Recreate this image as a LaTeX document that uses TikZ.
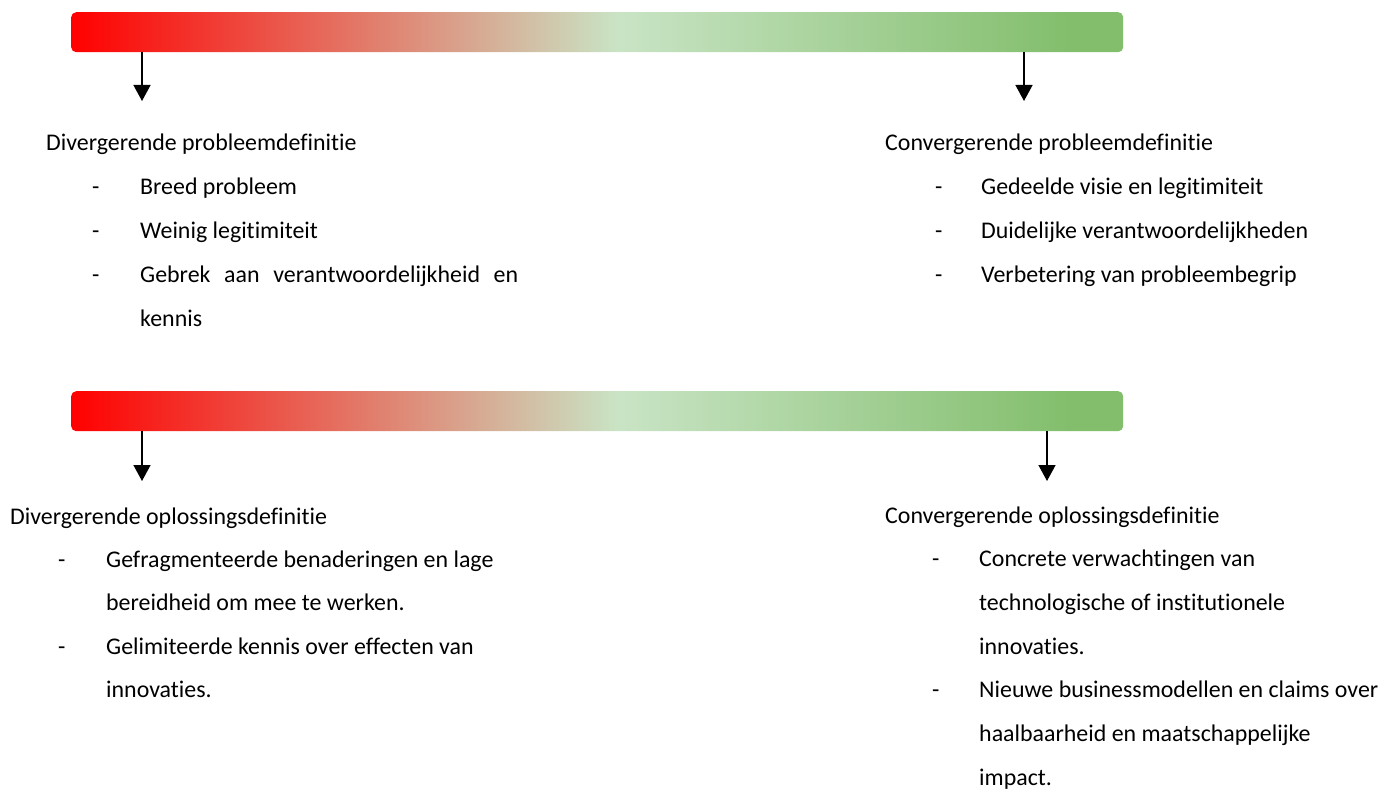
\documentclass[tikz,border=0pt]{standalone}
\usepackage{fontspec}
\setmainfont{Carlito}[Ligatures=NoCommon]
\usetikzlibrary{arrows.meta}
\definecolor{barred}{RGB}{255,0,0}
\definecolor{barlg}{RGB}{201,228,197}
\definecolor{bardg}{RGB}{130,190,108}
\pgfdeclarehorizontalshading{barshade}{100bp}{color(0bp)=(barred); color(25bp)=(barred); color(51bp)=(barlg); color(72.5bp)=(bardg); color(75bp)=(bardg); color(100bp)=(bardg)}
\tikzset{
  gradbar/.style={shading=barshade, rounded corners=5pt, minimum width=1052pt, minimum height=40pt, inner sep=0pt, anchor=north west},
  txt/.style={anchor=base west, inner sep=0pt, font=\fontsize{23.9}{28}\selectfont},
  arr/.style={line width=1.4pt, -{Triangle[width=17pt,length=16pt]}}
}
\begin{document}
\begin{tikzpicture}[x=1pt,y=-1pt]
\useasboundingbox (0,0) rectangle (1394,789);
% bars
\node[gradbar] (bar1) at (71,12) {};
\node[gradbar] (bar2) at (71,391) {};
% arrows
\coordinate (a1s) at (142,52);  \coordinate (a1e) at (142,101);
\coordinate (a2s) at (1024,52); \coordinate (a2e) at (1024,101);
\coordinate (a3s) at (142,431); \coordinate (a3e) at (142,481);
\coordinate (a4s) at (1047,431); \coordinate (a4e) at (1047,481);
\draw[arr] (a1s) -- (a1e);
\draw[arr] (a2s) -- (a2e);
\draw[arr] (a3s) -- (a3e);
\draw[arr] (a4s) -- (a4e);
% top-left
\node[txt] (t1) at (46,150) {Divergerende probleemdefinitie};
\node[txt] (d11) at (92,194) {-};
\node[txt] (l11) at (140,194) {Breed probleem};
\node[txt] (d12) at (92,238) {-};
\node[txt] (l12) at (140,238) {Weinig legitimiteit};
\node[txt] (d13) at (92,282) {-};
\node[txt] (l13) at (140,282) {\makebox[378pt][s]{Gebrek aan verantwoordelijkheid en}};
\node[txt] (l14) at (140,326) {kennis};
% top-right
\node[txt] (t2) at (885,150) {Convergerende probleemdefinitie};
\node[txt] (d21) at (935,194) {-};
\node[txt] (l21) at (981,194) {Gedeelde visie en legitimiteit};
\node[txt] (d22) at (935,238) {-};
\node[txt] (l22) at (981,238) {Duidelijke verantwoordelijkheden};
\node[txt] (d23) at (935,282) {-};
\node[txt] (l23) at (981,282) {Verbetering van probleembegrip};
% bottom-left
\node[txt] (t3) at (10,524) {Divergerende oplossingsdefinitie};
\node[txt] (d31) at (58,567) {-};
\node[txt] (l31) at (106,567) {Gefragmenteerde benaderingen en lage};
\node[txt] (l32) at (106,610) {bereidheid om mee te werken.};
\node[txt] (d33) at (58,654) {-};
\node[txt] (l33) at (106,654) {Gelimiteerde kennis over effecten van};
\node[txt] (l34) at (106,697) {innovaties.};
% bottom-right
\node[txt] (t4) at (885,523) {Convergerende oplossingsdefinitie};
\node[txt] (d41) at (932,566) {-};
\node[txt] (l41) at (979,566) {Concrete verwachtingen van};
\node[txt] (l42) at (979,610) {technologische of institutionele};
\node[txt] (l43) at (979,654) {innovaties.};
\node[txt] (d44) at (932,697) {-};
\node[txt] (l44) at (979,697) {Nieuwe businessmodellen en claims over};
\node[txt] (l45) at (979,741) {haalbaarheid en maatschappelijke};
\node[txt] (l46) at (979,785) {impact.};
\end{tikzpicture}
\end{document}
